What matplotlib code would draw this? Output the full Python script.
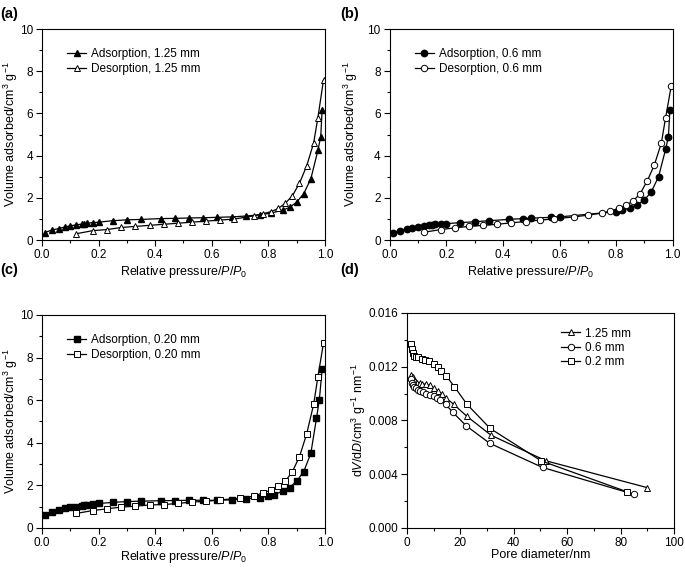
import numpy as np
import matplotlib
matplotlib.use("Agg")
import matplotlib.pyplot as plt
from matplotlib.ticker import MultipleLocator

plt.rcParams['font.family'] = ['Liberation Sans', 'DejaVu Sans']
plt.rcParams['mathtext.fontset'] = 'custom'
plt.rcParams['mathtext.rm'] = 'Liberation Sans'
plt.rcParams['mathtext.it'] = 'Liberation Sans:italic'
plt.rcParams['font.size'] = 8.5

# (a) 1.25 mm
a_ads_x = [0.01, 0.035, 0.06, 0.08, 0.10, 0.12, 0.14, 0.15, 0.16, 0.18, 0.20, 0.25, 0.30, 0.35,
           0.42, 0.47, 0.52, 0.57, 0.62, 0.67, 0.72, 0.77, 0.81, 0.85, 0.875, 0.90, 0.925,
           0.95, 0.975, 0.985, 0.99]
a_ads_y = [0.36, 0.48, 0.55, 0.62, 0.68, 0.72, 0.76, 0.78, 0.80, 0.83, 0.85, 0.92, 0.96, 0.98,
           1.02, 1.03, 1.05, 1.06, 1.08, 1.10, 1.14, 1.20, 1.28, 1.42, 1.55, 1.80, 2.20,
           2.90, 4.25, 4.90, 6.15]
a_des_x = [0.995, 0.975, 0.96, 0.935, 0.91, 0.885, 0.86, 0.835, 0.81, 0.78, 0.75, 0.68, 0.63,
           0.58, 0.53, 0.48, 0.43, 0.38, 0.33, 0.28, 0.23, 0.18, 0.12]
a_des_y = [7.6, 5.8, 4.6, 3.5, 2.7, 2.1, 1.75, 1.5, 1.35, 1.25, 1.15, 1.0, 0.95,
           0.9, 0.85, 0.8, 0.75, 0.7, 0.65, 0.6, 0.5, 0.45, 0.3]

# (b) 0.6 mm
b_ads_x = [0.01, 0.035, 0.06, 0.08, 0.10, 0.12, 0.14, 0.15, 0.16, 0.18, 0.20, 0.25, 0.30, 0.35,
           0.42, 0.47, 0.50, 0.57, 0.60, 0.80, 0.82, 0.85, 0.875, 0.90, 0.925, 0.95, 0.975,
           0.985, 0.99]
b_ads_y = [0.35, 0.45, 0.52, 0.57, 0.62, 0.66, 0.70, 0.72, 0.74, 0.76, 0.78, 0.83, 0.87, 0.92,
           0.98, 1.02, 1.04, 1.08, 1.10, 1.35, 1.42, 1.52, 1.68, 1.90, 2.30, 3.00, 4.30,
           4.90, 6.15]
b_des_x = [0.995, 0.975, 0.96, 0.935, 0.91, 0.885, 0.86, 0.835, 0.81, 0.78, 0.75, 0.70, 0.65,
           0.58, 0.53, 0.48, 0.43, 0.38, 0.33, 0.28, 0.23, 0.18, 0.12]
b_des_y = [7.3, 5.8, 4.6, 3.55, 2.8, 2.2, 1.85, 1.65, 1.5, 1.38, 1.28, 1.18, 1.1,
           1.0, 0.95, 0.88, 0.82, 0.75, 0.7, 0.65, 0.58, 0.5, 0.37]

# (c) 0.20 mm
c_ads_x = [0.01, 0.035, 0.06, 0.08, 0.10, 0.12, 0.14, 0.15, 0.16, 0.18, 0.20, 0.25, 0.30, 0.35,
           0.42, 0.47, 0.52, 0.57, 0.62, 0.67, 0.72, 0.77, 0.80, 0.82, 0.85, 0.875, 0.90,
           0.925, 0.95, 0.97, 0.98, 0.99]
c_ads_y = [0.62, 0.75, 0.85, 0.92, 0.97, 1.00, 1.05, 1.07, 1.09, 1.12, 1.15, 1.20, 1.24, 1.26,
           1.28, 1.29, 1.30, 1.30, 1.30, 1.32, 1.37, 1.42, 1.50, 1.57, 1.72, 1.90, 2.20,
           2.65, 3.50, 5.15, 6.00, 7.45]
c_des_x = [0.995, 0.975, 0.96, 0.935, 0.91, 0.885, 0.86, 0.835, 0.81, 0.78, 0.75, 0.70, 0.63,
           0.58, 0.53, 0.48, 0.43, 0.38, 0.33, 0.28, 0.23, 0.18, 0.12]
c_des_y = [8.7, 7.1, 5.8, 4.4, 3.35, 2.65, 2.2, 1.95, 1.78, 1.65, 1.5, 1.4, 1.32,
           1.25, 1.22, 1.15, 1.1, 1.08, 1.02, 0.98, 0.9, 0.82, 0.68]

# (d) pore size distribution
d_125_x = [1.7, 2.1, 2.6, 3.2, 3.9, 4.8, 5.8, 7.0, 8.5, 10.0, 11.5, 13.0, 14.5, 17.5, 22.5,
           31.5, 52.0, 90.0]
d_125_y = [0.0114, 0.0112, 0.0110, 0.0109, 0.0108, 0.0108, 0.0107, 0.0107, 0.0106, 0.0104,
           0.0102, 0.0100, 0.0097, 0.0092, 0.0083, 0.0069, 0.0050, 0.0030]
d_06_x = [1.5, 1.9, 2.3, 2.8, 3.4, 4.1, 5.0, 6.0, 7.2, 8.5, 10.0, 11.2, 12.5, 14.5, 17.2, 22.2,
          31.0, 50.8, 85.0]
d_06_y = [0.0111, 0.0108, 0.0106, 0.0105, 0.0104, 0.0103, 0.0102, 0.0101, 0.0100, 0.0099,
          0.0098, 0.0097, 0.0095, 0.0092, 0.0086, 0.0076, 0.0063, 0.0045, 0.0025]
d_02_x = [1.6, 1.9, 2.3, 2.8, 3.5, 4.3, 5.5, 6.8, 8.3, 10.0, 11.5, 12.8, 14.8, 17.8, 22.5,
          31.2, 50.2, 82.3]
d_02_y = [0.0137, 0.0133, 0.0130, 0.0128, 0.0127, 0.0127, 0.0126, 0.0125, 0.0124, 0.0122,
          0.0120, 0.0117, 0.0113, 0.0105, 0.0092, 0.0074, 0.0050, 0.0027]

fig = plt.figure(figsize=(6.85, 5.69), dpi=100)
ax_a = fig.add_axes([0.0613, 0.578, 0.4131, 0.371])
ax_b = fig.add_axes([0.569, 0.578, 0.413, 0.371])
ax_c = fig.add_axes([0.0613, 0.0721, 0.4131, 0.3743])
ax_d = fig.add_axes([0.594, 0.0721, 0.39, 0.378])

ms = 4.6
lw = 0.9


def style(ax):
    ax.tick_params(which='both', direction='out', top=False, right=False, labelsize=8.5, pad=2.5)
    ax.tick_params(which='major', length=4, width=0.8)
    ax.tick_params(which='minor', length=2, width=0.8)
    for s in ax.spines.values():
        s.set_linewidth(0.8)


def iso(ax, ax_x, ax_y, de_x, de_y, marker, size):
    ax.plot(ax_x, ax_y, color='black', marker=marker, ms=ms, lw=lw, mfc='black', mec='black',
            label="Adsorption, " + size)
    ax.plot(de_x, de_y, color='black', marker=marker, ms=ms, lw=lw, mfc='white', mec='black',
            mew=0.7, label="Desorption, " + size)
    ax.set_xlim(0, 1.0)
    ax.set_ylim(0, 10)
    ax.xaxis.set_major_locator(MultipleLocator(0.2))
    ax.xaxis.set_minor_locator(MultipleLocator(0.1))
    ax.yaxis.set_major_locator(MultipleLocator(2))
    ax.yaxis.set_minor_locator(MultipleLocator(1))
    ax.xaxis.set_major_formatter(matplotlib.ticker.FormatStrFormatter('%.1f'))
    ax.set_xlabel("Relative pressure/$P$/$P_0$", fontsize=9)
    ax.set_ylabel("Volume adsorbed/cm$^3$ g$^{-1}$", fontsize=9)
    ax.legend(loc='upper left', bbox_to_anchor=(0.06, 0.95), frameon=False, fontsize=8.5,
              handlelength=1.6, handletextpad=0.4, borderpad=0.2, labelspacing=0.3)
    style(ax)


iso(ax_a, a_ads_x, a_ads_y, a_des_x, a_des_y, '^', "1.25 mm")
iso(ax_b, b_ads_x, b_ads_y, b_des_x, b_des_y, 'o', "0.6 mm")
iso(ax_c, c_ads_x, c_ads_y, c_des_x, c_des_y, 's', "0.20 mm")

ax_d.plot(d_125_x, d_125_y, color='black', marker='^', ms=ms, lw=lw, mfc='white', mew=0.7,
          label="1.25 mm")
ax_d.plot(d_06_x, d_06_y, color='black', marker='o', ms=ms, lw=lw, mfc='white', mew=0.7,
          label="0.6 mm")
ax_d.plot(d_02_x, d_02_y, color='black', marker='s', ms=ms, lw=lw, mfc='white', mew=0.7,
          label="0.2 mm")
ax_d.set_xlim(0, 100)
ax_d.set_ylim(0, 0.016)
ax_d.xaxis.set_major_locator(MultipleLocator(20))
ax_d.xaxis.set_minor_locator(MultipleLocator(10))
ax_d.yaxis.set_major_locator(MultipleLocator(0.004))
ax_d.yaxis.set_minor_locator(MultipleLocator(0.002))
ax_d.yaxis.set_major_formatter(matplotlib.ticker.FormatStrFormatter('%.3f'))
ax_d.set_xlabel("Pore diameter/nm", fontsize=9)
ax_d.set_ylabel("d$V$/d$D$/cm$^3$ g$^{-1}$ nm$^{-1}$", fontsize=9)
ax_d.legend(loc='upper right', bbox_to_anchor=(0.87, 0.97), frameon=False, fontsize=8.5,
            handlelength=1.6, handletextpad=0.4, borderpad=0.2, labelspacing=0.2)
style(ax_d)

# label positions
ax_a.yaxis.set_label_coords(-0.078, 0.5)
ax_c.yaxis.set_label_coords(-0.078, 0.5)
ax_b.yaxis.set_label_coords(-0.104, 0.5)
ax_d.yaxis.set_label_coords(-0.146, 0.5)
ax_a.xaxis.set_label_coords(0.5, -0.115)
ax_b.xaxis.set_label_coords(0.5, -0.115)
ax_c.xaxis.set_label_coords(0.5, -0.10)
ax_d.xaxis.set_label_coords(0.5, -0.10)

for lab, x, y in [("(a)", 0.0, 0.988), ("(b)", 0.497, 0.988), ("(c)", 0.0, 0.537), ("(d)", 0.497, 0.537)]:
    fig.text(x, y, lab, fontsize=10.5, fontweight='bold', va='top', ha='left')

plt.savefig("out.png", dpi=100)
